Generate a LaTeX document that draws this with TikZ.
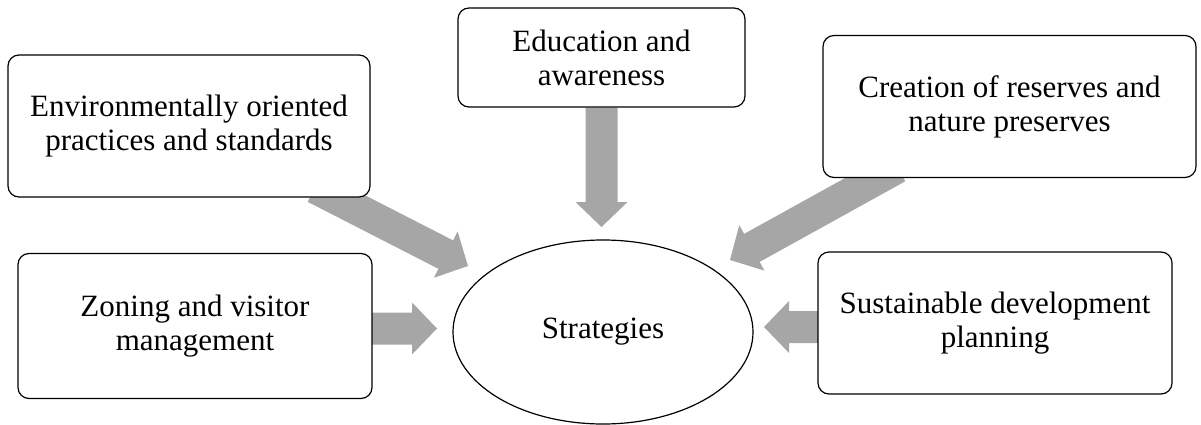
\documentclass[tikz,border=0pt]{standalone}
\usepackage{fontspec}
\setmainfont{Liberation Serif}
\usetikzlibrary{shapes.geometric,calc,backgrounds}
\definecolor{arrgray}{HTML}{A6A6A6}
\tikzset{
  box/.style={draw=black, line width=1.2pt, rounded corners=11pt, fill=white,
    align=center, inner sep=0pt, font=\fontsize{31}{34}\selectfont},
  hub/.style={draw=black, line width=1.2pt, ellipse, fill=white, inner sep=0pt,
    minimum width=300pt, minimum height=184pt, font=\fontsize{31}{34}\selectfont},
  blockarrow/.style={fill=arrgray}
}
\newcommand\blockarr[2]{%
  \coordinate (hb) at ($(#2)!25pt!(#1)$);
  \fill[blockarrow] ($(#1)!16pt!90:(#2)$) -- ($(hb)!16pt!90:(#2)$) -- ($(hb)!26pt!90:(#2)$)
    -- (#2) -- ($(hb)!26pt!-90:(#2)$) -- ($(hb)!16pt!-90:(#2)$) -- ($(#1)!16pt!-90:(#2)$) -- cycle;}
\begin{document}
\begin{tikzpicture}[x=1pt,y=-1pt]
\useasboundingbox (0,0) rectangle (1201,425);
\node[box, minimum width=362pt, minimum height=142pt] (env) at (189,126) {Environmentally oriented\\practices and standards};
\node[box, minimum width=287pt, minimum height=99pt] (edu) at (601.5,57.5) {Education and\\awareness};
\node[box, minimum width=373pt, minimum height=142pt] (res) at (1009.5,106.5) {Creation of reserves and\\nature preserves};
\node[box, minimum width=354pt, minimum height=145pt] (zon) at (195,326) {Zoning and visitor\\management};
\node[box, minimum width=354pt, minimum height=142pt] (sus) at (995,323) {Sustainable development\\planning};
\node[hub] (str) at (603,332) {Strategies};
\coordinate (s1) at (315,187.6);
\coordinate (t1) at (468,266);
\coordinate (t2) at (601.5,227);
\coordinate (s3) at (897.5,167.3);
\coordinate (t3) at (730,260);
\coordinate (s4) at (372,328.5);
\coordinate (t4) at (437,328.5);
\coordinate (s5) at (818,327);
\coordinate (t5) at (764,327);
\begin{scope}[on background layer]
\blockarr{s1}{t1}
\blockarr{edu.south}{t2}
\blockarr{s3}{t3}
\blockarr{s4}{t4}
\blockarr{s5}{t5}
\end{scope}
\end{tikzpicture}
\end{document}
